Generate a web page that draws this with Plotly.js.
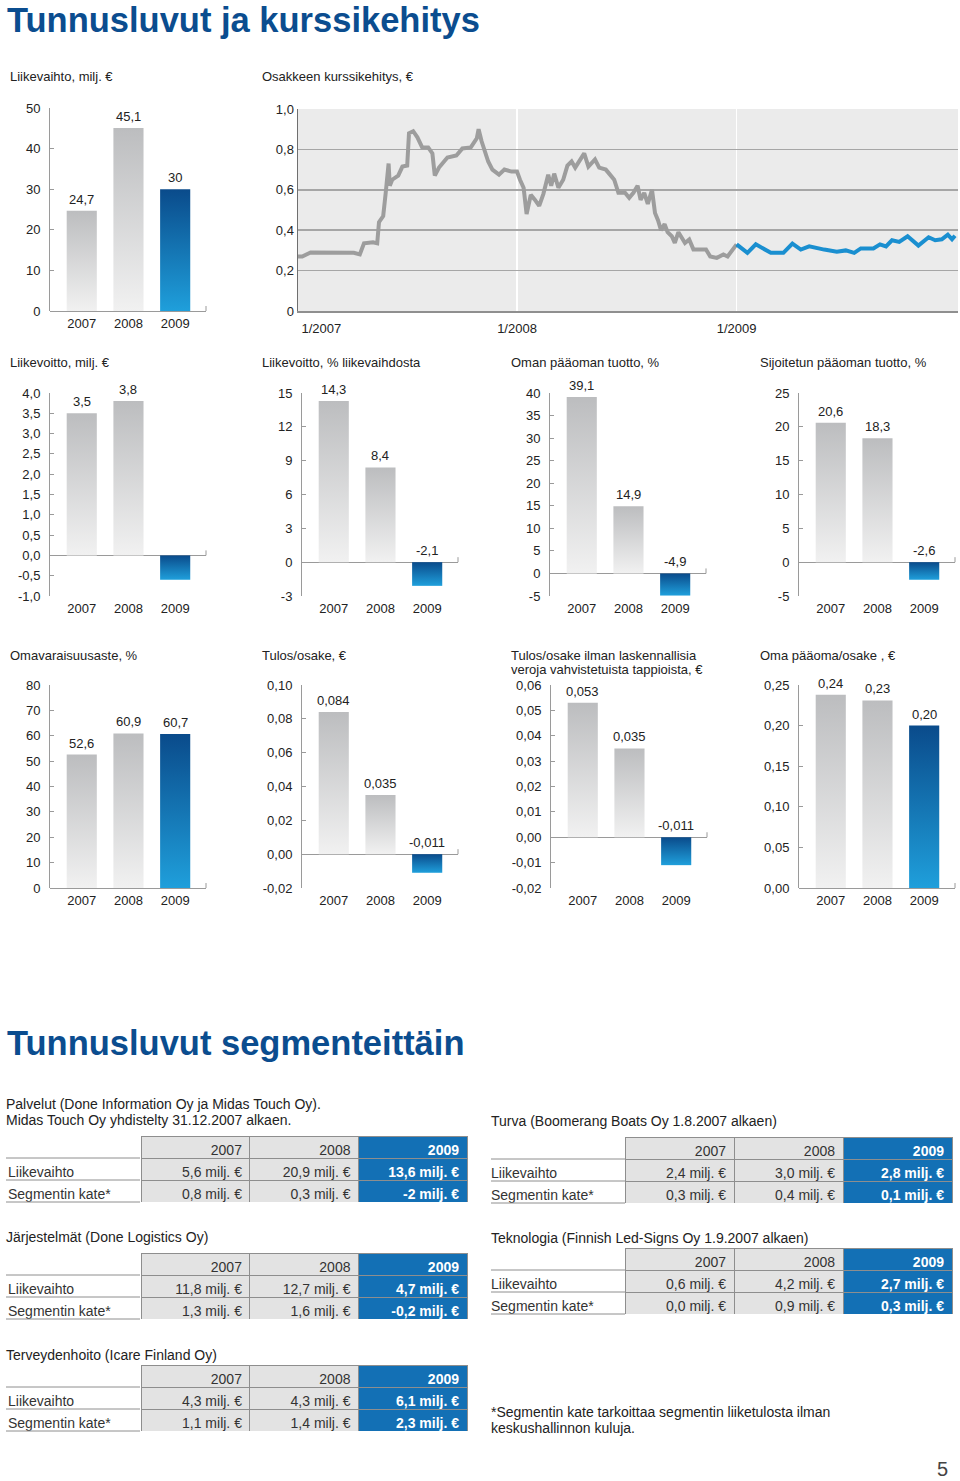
<!DOCTYPE html>
<html><head><meta charset="utf-8">
<script src="https://cdn.plot.ly/plotly-3.0.1.min.js"></script>
<style>html,body{margin:0;padding:0;background:#fff}#chart{width:960px;height:1481px}</style>
</head><body><div id="chart"></div>
<script>
// ---------------- DATA ----------------
const years = ['2007', '2008', '2009'];

const liikevaihto = [24.7, 45.1, 30];
const liikevoitto = [3.5, 3.8, -0.6];
const liikevoittoPct = [14.3, 8.4, -2.1];
const omanPaaomanTuotto = [39.1, 14.9, -4.9];
const sijoitetunPaaomanTuotto = [20.6, 18.3, -2.6];
const omavaraisuusaste = [52.6, 60.9, 60.7];
const tulosOsake = [0.084, 0.035, -0.011];
const tulosOsakeIlmanVeroja = [0.053, 0.035, -0.011];
const omaPaaomaOsake = [0.238, 0.231, 0.20];

const ticksLiikevaihto = [0, 10, 20, 30, 40, 50];
const ticksLiikevoitto = [-1, -0.5, 0, 0.5, 1, 1.5, 2, 2.5, 3, 3.5, 4];
const ticksLiikevoittoPct = [-3, 0, 3, 6, 9, 12, 15];
const ticksOmanPaaomanTuotto = [-5, 0, 5, 10, 15, 20, 25, 30, 35, 40];
const ticksSijoitetun = [-5, 0, 5, 10, 15, 20, 25];
const ticksOmavaraisuus = [0, 10, 20, 30, 40, 50, 60, 70, 80];
const ticksTulosOsake = [-0.02, 0, 0.02, 0.04, 0.06, 0.08, 0.10];
const ticksTulosIlman = [-0.02, -0.01, 0, 0.01, 0.02, 0.03, 0.04, 0.05, 0.06];
const ticksOmaPaaoma = [0, 0.05, 0.10, 0.15, 0.20, 0.25];

// share price
const kurssiPvm0708 = ['2007-01-01','2007-01-08','2007-01-22','2007-02-27','2007-04-04','2007-04-14','2007-04-21','2007-05-06','2007-05-13','2007-05-16','2007-05-23','2007-05-27','2007-06-01','2007-06-03','2007-06-07','2007-06-17','2007-06-24','2007-07-02','2007-07-05','2007-07-12','2007-07-19','2007-07-27','2007-08-06','2007-08-13','2007-08-17','2007-08-24','2007-09-07','2007-09-22','2007-10-02','2007-10-16','2007-10-26','2007-10-29','2007-11-03','2007-11-14','2007-11-21','2007-12-02','2007-12-11','2007-12-23','2008-01-01','2008-01-06','2008-01-12','2008-01-17','2008-01-24','2008-01-31','2008-02-07','2008-02-14','2008-02-22','2008-02-27','2008-03-03','2008-03-10','2008-03-18','2008-03-25','2008-04-01','2008-04-07','2008-04-15','2008-04-22','2008-04-29','2008-05-10','2008-05-17','2008-05-28','2008-06-04','2008-06-11','2008-06-18','2008-06-29','2008-07-06','2008-07-13','2008-07-20','2008-07-25','2008-07-31','2008-08-06','2008-08-13','2008-08-18','2008-08-23','2008-08-28','2008-09-03','2008-09-08','2008-09-15','2008-09-20','2008-09-26','2008-10-02','2008-10-07','2008-10-14','2008-10-21','2008-11-11','2008-11-18','2008-11-29','2008-12-10','2008-12-17','2008-12-24','2009-01-01'];
const kurssi0708 = [0.27,0.27,0.29,0.29,0.288,0.28,0.335,0.34,0.335,0.44,0.47,0.58,0.73,0.62,0.65,0.67,0.715,0.72,0.88,0.89,0.86,0.81,0.81,0.78,0.67,0.71,0.76,0.77,0.805,0.81,0.855,0.9,0.84,0.74,0.70,0.675,0.70,0.69,0.69,0.65,0.61,0.48,0.575,0.55,0.52,0.58,0.675,0.62,0.68,0.61,0.65,0.72,0.74,0.71,0.75,0.78,0.715,0.75,0.71,0.70,0.675,0.65,0.585,0.585,0.56,0.585,0.62,0.55,0.585,0.53,0.60,0.485,0.45,0.40,0.43,0.39,0.37,0.337,0.39,0.36,0.337,0.354,0.305,0.305,0.27,0.263,0.28,0.27,0.296,0.33];
const kurssiPvm09 = ['2009-01-01','2009-01-19','2009-02-02','2009-02-27','2009-03-20','2009-04-04','2009-04-18','2009-05-02','2009-05-27','2009-06-17','2009-07-02','2009-07-16','2009-07-27','2009-08-17','2009-08-28','2009-09-07','2009-09-17','2009-09-29','2009-10-13','2009-10-31','2009-11-17','2009-11-28','2009-12-09','2009-12-19','2009-12-26','2009-12-31'];
const kurssi09 = [0.33,0.288,0.33,0.288,0.288,0.334,0.304,0.32,0.304,0.293,0.30,0.288,0.31,0.31,0.33,0.32,0.35,0.342,0.37,0.324,0.365,0.35,0.355,0.378,0.355,0.373];
const kurssiTicks = [0, 0.2, 0.4, 0.6, 0.8, 1.0];
const kurssiTickText = ['0', '0,2', '0,4', '0,6', '0,8', '1,0'];
const kurssiLabelPvm = ['2007-02-09', '2008-01-01', '2009-01-01'];
const kurssiLabels = ['1/2007', '1/2008', '1/2009'];
const vuodenVaihteet = ['2008-01-01', '2009-01-01'];

// segment tables
const tableRows = ['Liikevaihto', 'Segmentin kate*'];
const palvelutLiikevaihto = ['5,6', '20,9', '13,6'];
const palvelutKate = ['0,8', '0,3', '-2'];
const turvaLiikevaihto = ['2,4', '3,0', '2,8'];
const turvaKate = ['0,3', '0,4', '0,1'];
const jarjestelmatLiikevaihto = ['11,8', '12,7', '4,7'];
const jarjestelmatKate = ['1,3', '1,6', '-0,2'];
const teknologiaLiikevaihto = ['0,6', '4,2', '2,7'];
const teknologiaKate = ['0,0', '0,9', '0,3'];
const terveysLiikevaihto = ['4,3', '4,3', '6,1'];
const terveysKate = ['1,1', '1,4', '2,3'];

// ---------------- BUILD ----------------
const W = 960, H = 1481;
const FONT = '"Liberation Sans", Arial, Helvetica, sans-serif';
const TXT = '#222';
const AX = '#9a9a9a';
const px = v => v / W;
const py = v => 1 - v / H;
const fmt = (v, dec) => (dec == null ? String(v) : v.toFixed(dec)).replace('.', ',');
const nb = s => s.replace(/ /g, '\u00a0');

const traces = [];
const layout = {
  width: W, height: H, margin: {l: 0, r: 0, t: 0, b: 0},
  paper_bgcolor: '#fff', plot_bgcolor: 'rgba(0,0,0,0)', showlegend: false,
  separators: ', ', font: {family: FONT, size: 13, color: TXT},
  annotations: [], shapes: []
};

function text(t, x, y, opts) {
  layout.annotations.push(Object.assign({
    text: t, x: px(x - 2), y: py(y), xref: 'paper', yref: 'paper',
    xanchor: 'left', yanchor: 'middle', showarrow: false,
    font: {family: FONT, size: 13, color: TXT}
  }, opts || {}));
}

// headings
text('<b>Tunnusluvut ja kurssikehitys</b>', 7, 20, {font: {family: FONT, size: 34.5, color: '#0b4d8f'}});
text('<b>Tunnusluvut segmenteittäin</b>', 7, 1043, {font: {family: FONT, size: 34.5, color: '#0b4d8f'}});

const GRAY_SCALE = [[0, '#f1f1f1'], [1, '#bcbdbf']];
const BLUE_SCALE = [[0, '#1f9fdb'], [1, '#0a4b8b']];
const BW = 0.645;
const XR = [-0.68, 2.66];

const charts = [
  {title: ['Liikevaihto, milj. €'], tx: 10, ty: [77], left: 50, top: 108, bottom: 311, vals: liikevaihto, range: [0, 50], ticks: ticksLiikevaihto, tdec: 0, ldec: null, show: [1,1,1]},
  {title: ['Liikevoitto, milj. €'], tx: 10, ty: [362], left: 50, top: 393, bottom: 596, vals: liikevoitto, range: [-1, 4], ticks: ticksLiikevoitto, tdec: 1, ldec: null, show: [1,1,0]},
  {title: ['Liikevoitto, % liikevaihdosta'], tx: 262, ty: [362], left: 302, top: 393, bottom: 596, vals: liikevoittoPct, range: [-3, 15], ticks: ticksLiikevoittoPct, tdec: 0, ldec: null, show: [1,1,1]},
  {title: ['Oman pääoman tuotto, %'], tx: 511, ty: [362], left: 550, top: 393, bottom: 596, vals: omanPaaomanTuotto, range: [-5, 40], ticks: ticksOmanPaaomanTuotto, tdec: 0, ldec: null, show: [1,1,1]},
  {title: ['Sijoitetun pääoman tuotto, %'], tx: 760, ty: [362], left: 799, top: 393, bottom: 596, vals: sijoitetunPaaomanTuotto, range: [-5, 25], ticks: ticksSijoitetun, tdec: 0, ldec: null, show: [1,1,1]},
  {title: ['Omavaraisuusaste, %'], tx: 10, ty: [655], left: 50, top: 685, bottom: 888, vals: omavaraisuusaste, range: [0, 80], ticks: ticksOmavaraisuus, tdec: 0, ldec: null, show: [1,1,1]},
  {title: ['Tulos/osake, €'], tx: 262, ty: [655], left: 302, top: 685, bottom: 888, vals: tulosOsake, range: [-0.02, 0.10], ticks: ticksTulosOsake, tdec: 2, ldec: 3, show: [1,1,1]},
  {title: ['Tulos/osake ilman laskennallisia', 'veroja vahvistetuista tappioista, €'], tx: 511, ty: [655, 670], left: 551, top: 685, bottom: 888, vals: tulosOsakeIlmanVeroja, range: [-0.02, 0.06], ticks: ticksTulosIlman, tdec: 2, ldec: 3, show: [1,1,1]},
  {title: ['Oma pääoma/osake , €'], tx: 760, ty: [655], left: 799, top: 685, bottom: 888, vals: omaPaaomaOsake, range: [0, 0.25], ticks: ticksOmaPaaoma, tdec: 2, ldec: 2, show: [1,1,1]}
];

let axisIdx = 1;
charts.forEach(c => {
  const k = axisIdx++;
  const xa = 'x' + (k === 1 ? '' : k), ya = 'y' + (k === 1 ? '' : k);
  const xk = 'xaxis' + (k === 1 ? '' : k), yk = 'yaxis' + (k === 1 ? '' : k);
  layout[xk] = {
    domain: [px(c.left), px(c.left + 156)], anchor: ya, range: XR, fixedrange: true,
    showgrid: false, zeroline: false, showline: false, ticks: '',
    tickvals: [0, 1, 2], ticktext: years, ticklabelstandoff: 3,
    tickfont: {family: FONT, size: 13, color: TXT}
  };
  layout[yk] = {
    domain: [py(c.bottom), py(c.top)], anchor: xa, range: c.range, fixedrange: true,
    showgrid: false, zeroline: true, zerolinecolor: AX, zerolinewidth: 1,
    showline: true, linecolor: AX, linewidth: 1,
    ticks: 'inside', ticklen: 4, tickcolor: AX, tickwidth: 1,
    tickvals: c.ticks, ticktext: c.ticks.map(v => fmt(v, c.tdec)), ticklabelstandoff: 6,
    tickfont: {family: FONT, size: 13, color: TXT}
  };
  c.vals.forEach((v, i) => {
    const blue = i === 2;
    const h = BW / 2;
    traces.push({
      type: 'scatter', mode: 'lines', xaxis: xa, yaxis: ya,
      x: [i - h, i + h, i + h, i - h, i - h], y: [0, 0, v, v, 0],
      fill: 'toself', line: {width: 0, color: 'rgba(0,0,0,0)'},
      fillcolor: blue ? '#1370b5' : '#d9dadb',
      fillgradient: {type: 'vertical', colorscale: blue ? BLUE_SCALE : GRAY_SCALE},
      hoverinfo: 'skip', showlegend: false, name: years[i]
    });
    if (c.show[i]) {
      layout.annotations.push({
        xref: xa, yref: ya, x: i, y: Math.max(v, 0), yanchor: 'bottom', xanchor: 'center',
        yshift: 2, showarrow: false, text: fmt(v, c.ldec),
        font: {family: FONT, size: 13, color: TXT}
      });
    }
  });
  // small end tick of the zero line
  layout.shapes.push({
    type: 'line', xref: xa + ' domain', yref: ya, x0: 1, x1: 1,
    ysizemode: 'pixel', yanchor: 0, y0: 0, y1: 5,
    line: {color: AX, width: 1}
  });
  c.title.forEach((t, j) => text(t, c.tx, c.ty[j]));
});

// ---- share price chart ----
{
  const k = axisIdx++;
  const xa = 'x' + k, ya = 'y' + k;
  layout['xaxis' + k] = {
    domain: [px(298), px(958)], anchor: ya, type: 'date',
    range: ['2007-01-01', '2010-01-05'], fixedrange: true,
    showgrid: false, zeroline: false, showline: true, linecolor: '#8f8f8f', linewidth: 1.5,
    ticks: '', tickvals: kurssiLabelPvm, ticktext: kurssiLabels, ticklabelstandoff: 5,
    tickfont: {family: FONT, size: 13, color: TXT},
    minor: {tickvals: vuodenVaihteet, showgrid: true, gridcolor: '#ffffff', gridwidth: 1.5, ticks: ''}
  };
  layout['yaxis' + k] = {
    domain: [py(311), py(109)], anchor: xa, range: [0, 1.0], fixedrange: true,
    showgrid: true, gridcolor: '#a6a6a6', gridwidth: 1.5, zeroline: false,
    showline: true, linecolor: '#6f6f6f', linewidth: 1.5, ticks: '',
    tickvals: kurssiTicks, ticktext: kurssiTickText, ticklabelstandoff: 0,
    tickfont: {family: FONT, size: 13, color: TXT}
  };
  layout.shapes.push({
    type: 'rect', xref: xa + ' domain', yref: ya + ' domain', x0: 0, x1: 1, y0: 0, y1: 1,
    fillcolor: '#ebebeb', line: {width: 0}, layer: 'below'
  });
  traces.push({type: 'scatter', mode: 'lines', xaxis: xa, yaxis: ya, x: kurssiPvm0708, y: kurssi0708,
    line: {color: '#9d9d9d', width: 4, shape: 'linear'}, hoverinfo: 'x+y', showlegend: false});
  traces.push({type: 'scatter', mode: 'lines', xaxis: xa, yaxis: ya, x: kurssiPvm09, y: kurssi09,
    line: {color: '#1a8fd0', width: 4, shape: 'linear'}, hoverinfo: 'x+y', showlegend: false});
  text('Osakkeen kurssikehitys, €', 262, 77);
}

// ---- segment tables ----
const BLUE = '#1370b5';
const CELLGRAY = '#e3e3e3';
const LINE = '#8e8e8e';
function segTable(title, tx, tys, left, top, lv, kate) {
  title.forEach((t, j) => text(t, tx, tys[j], {font: {family: FONT, size: 14, color: TXT}}));
  const rowH = 22;
  const cw = [142, 109, 109, 109];   // first column incl. 8px text padding
  const x0 = left - 8;
  const right = x0 + cw.reduce((a, b) => a + b, 0);
  const col = j => [nb(lv[j] + ' milj. €'), nb(kate[j] + ' milj. €')];
  const fonts = {family: FONT, size: 14, color: ['#333', '#333', '#333', '#ffffff'], weight: [400, 400, 400, 700]};
  traces.push({
    type: 'table',
    domain: {x: [px(x0), px(right)], y: [py(top + rowH * 3 + 1), py(top)]},
    columnwidth: cw,
    header: {
      values: ['', years[0], years[1], years[2]],
      align: ['left', 'right', 'right', 'right'], height: rowH,
      fill: {color: ['#ffffff', CELLGRAY, CELLGRAY, BLUE]},
      line: {color: ['#ffffff', LINE, LINE, LINE], width: 1},
      font: fonts
    },
    cells: {
      values: [tableRows.map(nb), col(0), col(1), col(2)],
      align: ['left', 'right', 'right', 'right'], height: rowH,
      fill: {color: ['#ffffff', CELLGRAY, CELLGRAY, BLUE]},
      line: {color: ['#ffffff', LINE, LINE, LINE], width: 1},
      font: fonts
    }
  });
  [1, 2, 3].forEach(r => layout.shapes.push({
    type: 'line', xref: 'paper', yref: 'paper',
    x0: px(left), x1: px(left + 134), y0: py(top + rowH * r), y1: py(top + rowH * r),
    line: {color: LINE, width: 1}
  }));
}
segTable(['Palvelut (Done Information Oy ja Midas Touch Oy).', 'Midas Touch Oy yhdistelty 31.12.2007 alkaen.'], 6, [1104, 1120], 6, 1136, palvelutLiikevaihto, palvelutKate);
segTable(['Turva (Boomerang Boats Oy 1.8.2007 alkaen)'], 491, [1121], 491, 1137, turvaLiikevaihto, turvaKate);
segTable(['Järjestelmät (Done Logistics Oy)'], 6, [1237], 6, 1253, jarjestelmatLiikevaihto, jarjestelmatKate);
segTable(['Teknologia (Finnish Led-Signs Oy 1.9.2007 alkaen)'], 491, [1238], 491, 1248, teknologiaLiikevaihto, teknologiaKate);
segTable(['Terveydenhoito (Icare Finland Oy)'], 6, [1355], 6, 1365, terveysLiikevaihto, terveysKate);

text('*Segmentin kate tarkoittaa segmentin liiketulosta ilman', 491, 1412, {font: {family: FONT, size: 14, color: TXT}});
text('keskushallinnon kuluja.', 491, 1428, {font: {family: FONT, size: 14, color: TXT}});
text('5', 952, 1469, {xanchor: 'right', font: {family: FONT, size: 20, color: '#444'}});

Plotly.newPlot('chart', traces, layout, {staticPlot: true, displayModeBar: false});
</script>
</body></html>
